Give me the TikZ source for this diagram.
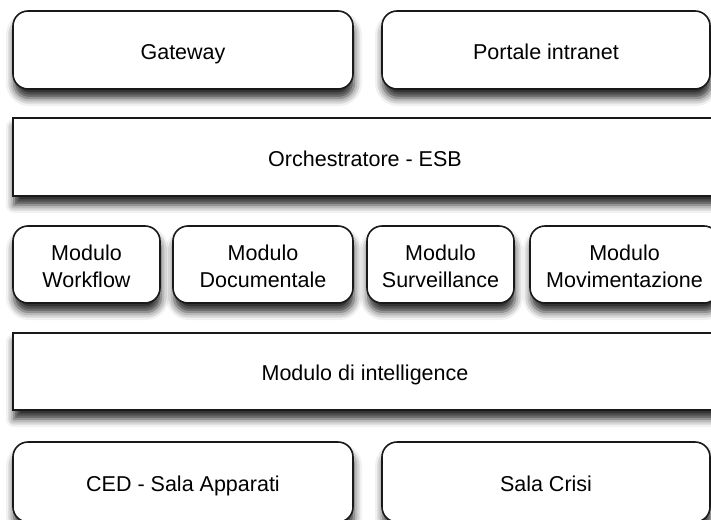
\documentclass[tikz,border=0pt]{standalone}
\usepackage{fontspec}
\setmainfont{Liberation Sans}
\usetikzlibrary{calc,positioning,shadows.blur}
\newcommand{\modtop}{\rule{0pt}{24pt}}

\begin{document}
\begin{tikzpicture}[
  x=1pt, y=-1pt,
  rounded block/.style={
    rectangle,
    rounded corners=15pt,
    fill=white!100,
    line width=1.6pt,
    draw=black!90,
    minimum height=78pt,
    inner sep=0pt,
    outer sep=0pt,
    align=center,
    anchor=north west,
    font=\fontsize{21.5}{27}\selectfont,
    execute at begin node={\vphantom{Ag}\rule{0pt}{23pt}},
    blur shadow={shadow xshift=1pt, shadow yshift=-9pt,
      shadow blur radius=8pt, shadow opacity=85}
  },
  flat block/.style={
    rounded block,
    rounded corners=0pt
  },
  module block/.style={
    rounded block,
    minimum height=77pt
  }
  ]
\useasboundingbox (0,0) rectangle (711,519);
% Top row
\node [rounded block, minimum width=340pt] (gateway) at (13,11) {Gateway};
\node [rounded block, minimum width=328pt] (portale intranet) at (382,11) {Portale intranet};
% ESB
\node [flat block, minimum width=704pt] (orchestratore) at (13,118) {Orchestratore - ESB};
% Modules
\node [module block, minimum width=147pt] (modulo workflow) at (13,226) {\modtop Modulo\\ Workflow};
\node [module block, minimum width=180pt] (modulo documentale) at (173,226) {\modtop Modulo\\ Documentale};
\node [module block, minimum width=147pt] (modulo surveillance) at (367,226) {\modtop Modulo\\ Surveillance};
\node [module block, minimum width=189pt] (modulo movimentazione) at (530,226) {\modtop Modulo\\ Movimentazione};
% Intelligence
\node [flat block, minimum width=704pt, minimum height=77pt] (modulo intelligence) at (13,333) {Modulo di intelligence};
% Bottom row
\node [rounded block, minimum width=340pt, minimum height=80pt] (ced) at (13,442) {CED - Sala Apparati};
\node [rounded block, minimum width=328pt, minimum height=80pt] (sala crisi) at (382,442) {Sala Crisi};
\end{tikzpicture}
\end{document}
